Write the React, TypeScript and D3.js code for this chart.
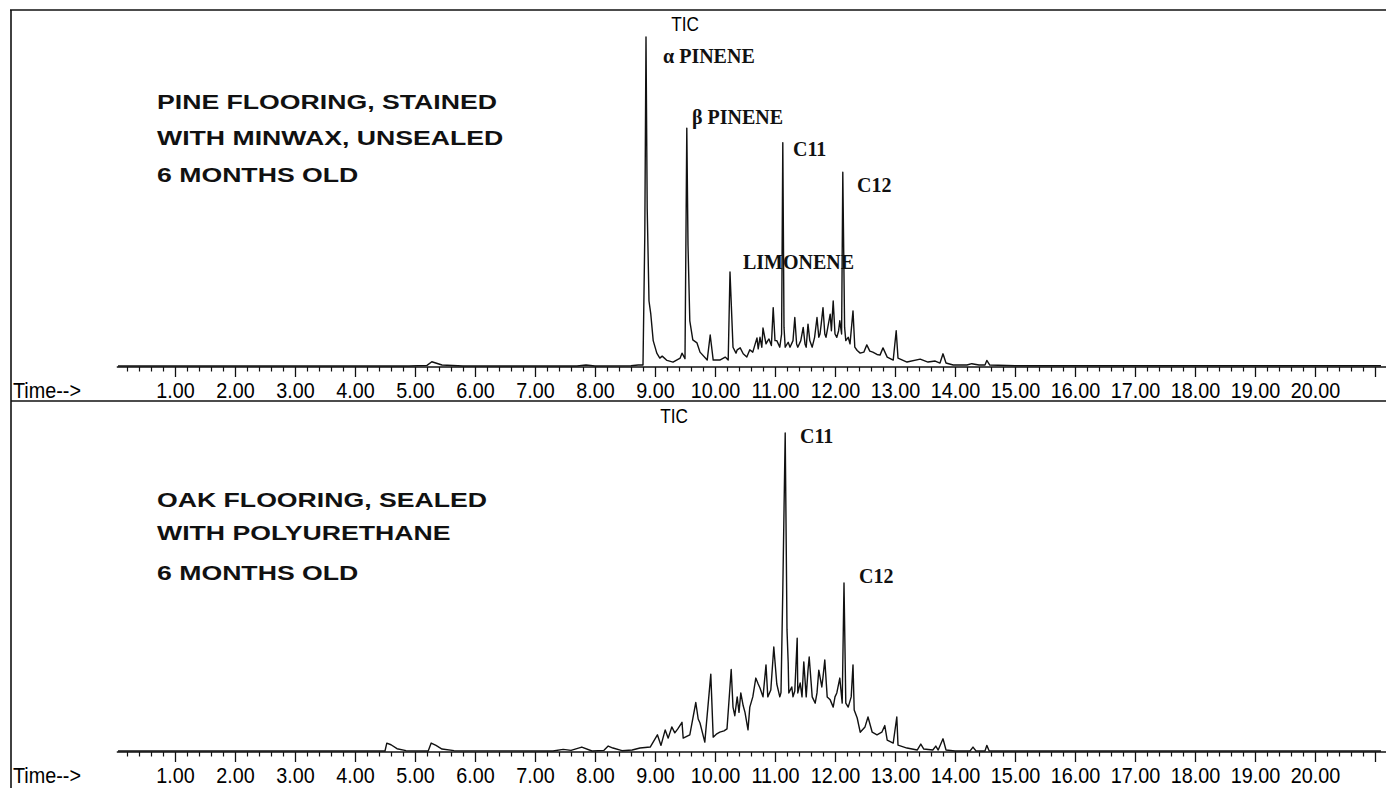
import { useEffect, useRef } from 'react';
import * as d3 from 'd3';

const W = 1386, H = 788;

// [retention time (min), abundance (% of full scale)]
const pineTrace: [number, number][] = [
  [0.05, 0.3], [4.9, 0.3], [5.2, 0.5], [5.28, 1.6], [5.45, 0.6], [5.8, 0.3], [7.7, 0.3], [7.85, 0.6], [8.0, 0.3],
  [8.6, 0.4], [8.72, 0.6], [8.8, 0.6], [8.83, 40], [8.85, 100], [8.87, 48], [8.9, 20], [8.93, 16], [8.97, 8],
  [9.03, 4.2], [9.08, 2.7], [9.12, 3.3], [9.2, 2], [9.3, 1.5], [9.42, 2.7], [9.45, 4.2], [9.5, 2.5], [9.53, 72.4],
  [9.55, 37], [9.58, 14], [9.63, 8.2], [9.7, 7.3], [9.75, 4.5], [9.87, 2.1], [9.92, 9.7], [9.97, 2.1], [10.08, 2.1],
  [10.17, 3], [10.22, 2.1], [10.25, 28.8], [10.3, 6], [10.35, 4.2], [10.37, 5.2], [10.42, 5.8], [10.47, 4], [10.53, 3],
  [10.58, 5.2], [10.63, 4.5], [10.67, 7], [10.7, 8.8], [10.72, 5.5], [10.75, 9], [10.78, 6], [10.8, 11.8],
  [10.85, 7], [10.88, 8], [10.9, 8.5], [10.94, 6.5], [10.97, 18], [11.0, 8], [11.03, 8], [11.08, 6], [11.11, 10],
  [11.13, 68], [11.15, 12], [11.17, 6], [11.22, 7.5], [11.25, 6], [11.3, 8], [11.33, 15], [11.36, 7], [11.38, 6],
  [11.43, 8], [11.47, 12], [11.5, 7], [11.52, 6], [11.55, 13], [11.58, 8], [11.62, 6], [11.66, 9], [11.7, 15],
  [11.73, 9], [11.75, 10], [11.77, 13], [11.8, 18], [11.83, 10], [11.85, 9], [11.88, 12], [11.92, 16], [11.94, 11],
  [11.97, 20], [12.0, 10], [12.03, 9], [12.06, 11], [12.08, 14], [12.11, 10], [12.13, 59], [12.16, 12], [12.18, 8],
  [12.22, 9], [12.25, 7], [12.3, 17], [12.33, 6], [12.37, 5], [12.42, 4.2], [12.48, 4.5], [12.53, 6.7], [12.58, 4.8],
  [12.63, 4.5], [12.7, 3.8], [12.75, 3.6], [12.8, 5.8], [12.87, 3], [12.97, 2.1], [13.02, 11], [13.05, 2.7],
  [13.2, 1.5], [13.42, 2.4], [13.55, 1.5], [13.67, 1.8], [13.75, 1.2], [13.8, 4], [13.85, 1.2], [13.97, 0.6],
  [14.2, 0.6], [14.28, 1.0], [14.4, 0.6], [14.5, 0.6], [14.53, 2], [14.58, 0.6], [15.0, 0.4], [21.1, 0.4],
];

const oakTrace: [number, number][] = [
  [0.05, 0.3], [4.5, 0.3], [4.53, 2.7], [4.6, 2.2], [4.7, 1], [4.85, 0.4], [5.22, 0.3], [5.27, 2.7], [5.35, 2],
  [5.45, 0.9], [5.65, 0.4], [7.3, 0.3], [7.47, 0.8], [7.6, 0.5], [7.78, 1.5], [7.95, 0.3], [8.15, 0.5], [8.22, 1.8],
  [8.3, 1.2], [8.45, 0.4], [8.62, 0.6], [8.75, 1.2], [8.92, 1.5], [9.04, 5.2], [9.1, 2], [9.17, 6.7], [9.22, 4.2],
  [9.28, 7.6], [9.33, 5.8], [9.38, 7], [9.45, 9], [9.47, 4.2], [9.58, 5.2], [9.68, 15], [9.72, 10], [9.75, 8.8],
  [9.83, 3], [9.93, 23.6], [9.97, 4.5], [10.03, 5.5], [10.08, 6], [10.15, 6.4], [10.2, 7], [10.27, 25], [10.3, 13.6],
  [10.33, 11], [10.37, 16.7], [10.4, 12], [10.43, 17.9], [10.47, 14], [10.5, 12], [10.55, 6.7], [10.58, 13.6],
  [10.63, 16.7], [10.68, 22.4], [10.72, 20.6], [10.75, 19.4], [10.8, 16.7], [10.85, 26.4], [10.88, 16.7],
  [10.93, 18.8], [10.98, 31.8], [11.03, 20.6], [11.08, 16.7], [11.1, 18], [11.13, 49], [11.17, 96.7], [11.2, 37],
  [11.22, 27], [11.23, 17.9], [11.28, 19.7], [11.3, 16.7], [11.33, 18.5], [11.37, 34.5], [11.38, 17.9],
  [11.42, 20.9], [11.45, 16.7], [11.48, 27.3], [11.52, 16.7], [11.55, 24.8], [11.57, 28.8], [11.62, 16.7],
  [11.67, 14.8], [11.7, 17.9], [11.73, 24.8], [11.78, 19.7], [11.8, 22.7], [11.83, 27.9], [11.87, 16.7],
  [11.92, 15.8], [11.97, 13.6], [12.0, 16.7], [12.03, 17.9], [12.08, 22.4], [12.12, 14.8], [12.15, 51.2],
  [12.18, 14.8], [12.22, 13.6], [12.27, 16.7], [12.3, 26.4], [12.32, 12.7], [12.37, 10.3], [12.42, 6], [12.5, 7.6],
  [12.55, 10.6], [12.62, 6], [12.7, 5.2], [12.78, 6], [12.83, 8], [12.87, 3.6], [12.97, 2.7], [13.03, 10.6],
  [13.05, 2.1], [13.2, 1.2], [13.37, 0.6], [13.43, 2.4], [13.48, 0.9], [13.63, 0.6], [13.68, 1.8], [13.72, 0.6],
  [13.8, 4], [13.85, 0.6], [14.0, 0.3], [14.25, 0.3], [14.3, 1.5], [14.35, 0.3], [14.5, 0.3], [14.53, 2],
  [14.57, 0.3], [21.1, 0.3],
];

const majorTicks = d3.range(1, 22);
const labelledTicks = d3.range(1, 21);
const pineCaption = ['PINE FLOORING, STAINED', 'WITH MINWAX, UNSEALED', '6 MONTHS OLD'];
const oakCaption = ['OAK FLOORING, SEALED', 'WITH POLYURETHANE', '6 MONTHS OLD'];
const pinePeakNames = ['α PINENE', 'β PINENE', 'C11', 'C12', 'LIMONENE'];
const oakPeakNames = ['C11', 'C12'];

const SANS = '"Liberation Sans", Arial, Helvetica, sans-serif';
const SERIF = '"Liberation Serif", "Times New Roman", serif';

const panels = [
  {
    trace: pineTrace, base: 367, caption: pineCaption, capY: [109, 145, 182],
    tic: [685, 31], peaks: pinePeakNames, peakPos: [[663, 63], [692, 124], [793, 156], [857, 192], [743, 269]],
  },
  {
    trace: oakTrace, base: 752, caption: oakCaption, capY: [507, 540, 580],
    tic: [674, 423], peaks: oakPeakNames, peakPos: [[800, 443], [859, 583]],
  },
];

function App() {
  const ref = useRef<SVGSVGElement>(null);
  useEffect(() => {
    if (!ref.current) return;
    const svg = d3.select(ref.current);
    svg.selectAll('*').remove();
    svg.append('rect').attr('width', W).attr('height', H).attr('fill', '#fff');

    const x = d3.scaleLinear().domain([0, 21]).range([115, 1375]);
    const minorTicks = d3.range(0.2, 21.01, 0.2).filter(t => Math.abs(t - Math.round(t)) > 0.01);

    // frame
    const frame = svg.append('g').attr('stroke', '#111').attr('stroke-width', 1.6);
    frame.append('line').attr('x1', 10).attr('x2', W).attr('y1', 10).attr('y2', 10);
    frame.append('line').attr('x1', 11).attr('x2', 11).attr('y1', 10).attr('y2', H);
    frame.append('line').attr('x1', 11).attr('x2', W).attr('y1', 401).attr('y2', 401);

    panels.forEach(p => {
      const y = d3.scaleLinear().domain([0, 100]).range([p.base, p.base - 330]);
      const g = svg.append('g');

      g.append('line').attr('x1', x(0.03)).attr('x2', W).attr('y1', p.base).attr('y2', p.base)
        .attr('stroke', '#111').attr('stroke-width', 1.5);

      const minor = g.append('g').attr('transform', `translate(0,${p.base})`)
        .call(d3.axisBottom(x).tickValues(minorTicks).tickSize(4.5).tickFormat(() => ''));
      minor.select('.domain').remove();
      minor.selectAll('line').attr('stroke', '#111').attr('stroke-width', 1.2);

      const major = g.append('g').attr('transform', `translate(0,${p.base})`)
        .call(d3.axisBottom(x).tickValues(majorTicks).tickSize(10)
          .tickFormat(d => (labelledTicks.includes(+d) ? (+d).toFixed(2) : '')));
      major.select('.domain').remove();
      major.selectAll('line').attr('stroke', '#111').attr('stroke-width', 1.3);
      major.selectAll('text').attr('y', 31).attr('dy', null)
        .attr('transform', 'scale(0.9,1)')
        .attr('font-family', SANS).attr('font-size', 22).attr('fill', '#000');

      g.append('text').text('Time-->').attr('transform', `translate(13,${p.base + 31}) scale(0.9,1)`)
        .attr('font-family', SANS).attr('font-size', 22).attr('fill', '#000');

      g.append('path').datum(p.trace)
        .attr('d', d3.line<[number, number]>().x(d => x(d[0])).y(d => y(d[1])))
        .attr('fill', 'none').attr('stroke', '#111').attr('stroke-width', 1.4).attr('stroke-linejoin', 'round');

      g.append('text').text('TIC').attr('transform', `translate(${p.tic[0]},${p.tic[1]}) scale(0.82,1)`)
        .attr('text-anchor', 'middle').attr('font-family', SANS).attr('font-size', 21).attr('fill', '#000');

      p.caption.forEach((line, i) => {
        g.append('text').text(line).attr('transform', `translate(157,${p.capY[i]}) scale(1.3,1)`)
          .attr('font-family', SANS).attr('font-weight', 'bold').attr('font-size', 20.5).attr('fill', '#111');
      });

      p.peaks.forEach((name, i) => {
        g.append('text').text(name).attr('x', p.peakPos[i][0]).attr('y', p.peakPos[i][1])
          .attr('font-family', SERIF).attr('font-weight', 'bold').attr('font-size', 20).attr('fill', '#111');
      });
    });
  }, []);

  return (
    <svg ref={ref} width={W} height={H}
      style={{ position: 'absolute', left: 0, top: 0, background: '#fff', display: 'block' }} />
  );
}

export default App;
